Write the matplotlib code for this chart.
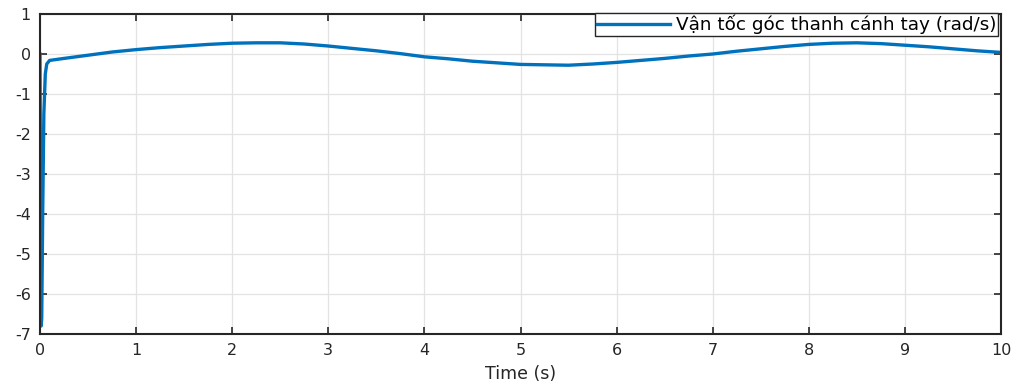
import matplotlib
matplotlib.use("Agg")
import matplotlib.pyplot as plt

plt.rcParams['font.family'] = ['DejaVu Sans']
plt.rcParams['axes.unicode_minus'] = False

# arm angular velocity
t = [0.0, 0.005, 0.012, 0.018, 0.028, 0.04, 0.055, 0.07, 0.1, 0.25, 0.5, 0.75,
     1.0, 1.25, 1.5, 1.75, 2.0, 2.25, 2.5, 2.75, 3.0, 3.25, 3.5, 3.75,
     4.0, 4.25, 4.5, 4.75, 5.0, 5.25, 5.5, 5.75, 6.0, 6.25, 6.5, 6.75,
     7.0, 7.25, 7.5, 7.75, 8.0, 8.25, 8.5, 8.75, 9.0, 9.25, 9.5, 9.75, 10.0]
omega = [0.0, -3.5, -6.8, -6.6, -4.0, -1.5, -0.5, -0.25, -0.16, -0.11, -0.03, 0.05,
         0.11, 0.16, 0.20, 0.24, 0.27, 0.28, 0.28, 0.25, 0.20, 0.14, 0.08, 0.01,
         -0.07, -0.12, -0.18, -0.22, -0.26, -0.27, -0.28, -0.25, -0.21, -0.16, -0.11, -0.05,
         0.0, 0.07, 0.13, 0.19, 0.24, 0.27, 0.28, 0.26, 0.22, 0.18, 0.13, 0.08, 0.04]
label = 'Vận tốc góc thanh cánh tay (rad/s)'

fig = plt.figure(figsize=(10.18, 3.84), dpi=100)
ax = fig.add_axes([0.0393, 0.1302, 0.944, 0.8333])
ax.plot(t, omega, color='#0072BD', lw=2.4, label=label)

ax.set_xlim(0, 10)
ax.set_ylim(-7, 1)
ax.set_xticks(range(0, 11))
ax.set_yticks(range(-7, 2))
ax.grid(True, color='#e3e3e3', lw=0.9)
ax.tick_params(direction='in', top=True, right=True, length=5, width=1.2,
               labelsize=11.5, colors='#262626', pad=6.5)
for s in ax.spines.values():
    s.set_color('#262626')
    s.set_linewidth(1.5)
ax.set_xlabel('Time (s)', fontsize=12.5, color='#262626', labelpad=5)

leg = ax.legend(loc='upper right', fontsize=13.2, fancybox=False, framealpha=1,
                edgecolor='#262626', borderpad=0.1, handlelength=4.0,
                borderaxespad=0.0, handletextpad=0.3,
                bbox_to_anchor=(0.997, 1.003))
leg.get_frame().set_linewidth(1.0)

fig.savefig('out.png', dpi=100)
